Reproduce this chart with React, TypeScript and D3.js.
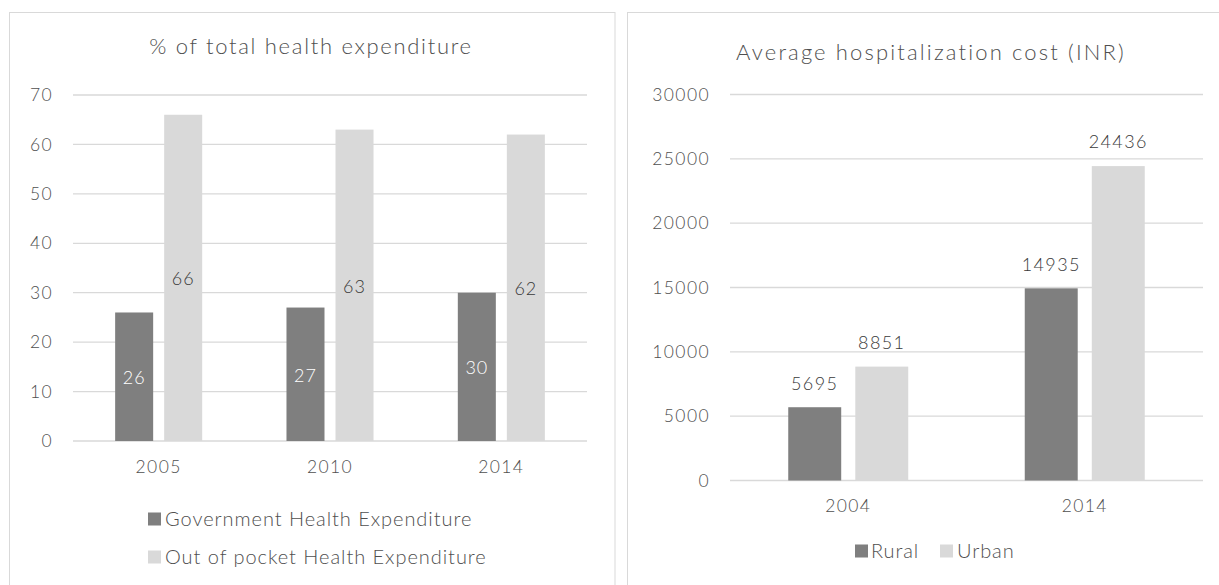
import React from "react";
import * as d3 from "d3";

const leftCategories = ["2005", "2010", "2014"];
const govValues = [26, 27, 30];
const oopValues = [66, 63, 62];
const leftTicks = [0, 10, 20, 30, 40, 50, 60, 70];

const rightCategories = ["2004", "2014"];
const ruralValues = [5695, 14935];
const urbanValues = [8851, 24436];
const rightTicks = [0, 5000, 10000, 15000, 20000, 25000, 30000];

const DARK = "#7f7f7f";
const LIGHT = "#d9d9d9";
const TEXT = "#4f4f4f";
const LABEL = "#3a3a3a";
const FONT = "Lato, 'Open Sans', sans-serif";
const W = 300;

function LeftChart() {
  const x0 = d3.scaleBand().domain(leftCategories).range([73, 587]).paddingInner(0.492).paddingOuter(0.246);
  const x1 = d3.scaleBand().domain(["gov", "oop"]).range([0, x0.bandwidth()]).paddingInner(0.2245);
  const y = d3.scaleLinear().domain([0, 70]).range([441, 95]);
  return (
    <g fontFamily={FONT} fontWeight={W}>
      <rect x={9.5} y={12.5} width={605.5} height={600} fill="#fff" stroke="#d9d9d9" />
      <text x={311} y={54} textAnchor="middle" fontSize={22} fill={TEXT} letterSpacing={1.7}>% of total health expenditure</text>
      {leftTicks.map((t) => (
        <g key={t}>
          <line x1={73} x2={587} y1={y(t)} y2={y(t)} stroke={LIGHT} strokeWidth={1.3} />
          <text x={53} y={y(t)} dy="0.35em" textAnchor="end" fontSize={17.5} fill={TEXT} letterSpacing={1.4}>{t}</text>
        </g>
      ))}
      {leftCategories.map((c, i) => {
        const gx = x0(c)!;
        const gxg = gx + x1("gov")!;
        const gxo = gx + x1("oop")!;
        const w = x1.bandwidth();
        return (
          <g key={c}>
            <rect x={gxg} y={y(govValues[i])} width={w} height={y(0) - y(govValues[i])} fill={DARK} />
            <rect x={gxo} y={y(oopValues[i])} width={w} height={y(0) - y(oopValues[i])} fill={LIGHT} />
            <text x={gxg + w / 2} y={(y(govValues[i]) + y(0)) / 2 + 1} dy="0.35em" textAnchor="middle" fontSize={18} fill="#fff" letterSpacing={1}>{govValues[i]}</text>
            <text x={gxo + w / 2} y={(y(oopValues[i]) + y(0)) / 2 + 1} dy="0.35em" textAnchor="middle" fontSize={18} fill={LABEL} letterSpacing={1}>{oopValues[i]}</text>
            <text x={gx + x0.bandwidth() / 2} y={467} dy="0.35em" textAnchor="middle" fontSize={17.5} fill={TEXT} letterSpacing={1.4}>{c}</text>
          </g>
        );
      })}
      <rect x={148} y={512.5} width={13} height={13} fill={DARK} />
      <text x={165} y={519} dy="0.35em" fontSize={20} fill={TEXT} letterSpacing={0.95}>Government Health Expenditure</text>
      <rect x={148} y={550.5} width={13} height={13} fill={LIGHT} />
      <text x={165} y={557} dy="0.35em" fontSize={20} fill={TEXT} letterSpacing={0.95}>Out of pocket Health Expenditure</text>
    </g>
  );
}

function RightChart() {
  const x0 = d3.scaleBand().domain(rightCategories).range([730, 1203]).paddingInner(0.4926).paddingOuter(0.2463);
  const x1 = d3.scaleBand().domain(["rural", "urban"]).range([0, x0.bandwidth()]).paddingInner(0.21);
  const y = d3.scaleLinear().domain([0, 30000]).range([480.5, 94.5]);
  return (
    <g fontFamily={FONT} fontWeight={W}>
      <rect x={627.5} y={12.5} width={600} height={600} fill="#fff" stroke="#d9d9d9" />
      <text x={931} y={60} textAnchor="middle" fontSize={22} fill={TEXT} letterSpacing={2.15}>Average hospitalization cost (INR)</text>
      {rightTicks.map((t) => (
        <g key={t}>
          <line x1={730} x2={1203} y1={y(t)} y2={y(t)} stroke={LIGHT} strokeWidth={1.3} />
          <text x={710} y={y(t)} dy="0.35em" textAnchor="end" fontSize={17.5} fill={TEXT} letterSpacing={1.4}>{t}</text>
        </g>
      ))}
      {rightCategories.map((c, i) => {
        const gx = x0(c)!;
        const gxr = gx + x1("rural")!;
        const gxu = gx + x1("urban")!;
        const w = x1.bandwidth();
        return (
          <g key={c}>
            <rect x={gxr} y={y(ruralValues[i])} width={w} height={y(0) - y(ruralValues[i])} fill={DARK} />
            <rect x={gxu} y={y(urbanValues[i])} width={w} height={y(0) - y(urbanValues[i])} fill={LIGHT} />
            <text x={gxr + w / 2} y={y(ruralValues[i]) - 24} dy="0.35em" textAnchor="middle" fontSize={18} fill={LABEL} letterSpacing={1.4}>{ruralValues[i]}</text>
            <text x={gxu + w / 2} y={y(urbanValues[i]) - 24} dy="0.35em" textAnchor="middle" fontSize={18} fill={LABEL} letterSpacing={1.4}>{urbanValues[i]}</text>
            <text x={gx + x0.bandwidth() / 2} y={506} dy="0.35em" textAnchor="middle" fontSize={17.5} fill={TEXT} letterSpacing={1.4}>{c}</text>
          </g>
        );
      })}
      <rect x={855} y={544.5} width={13} height={13} fill={DARK} />
      <text x={871} y={551} dy="0.35em" fontSize={20} fill={TEXT} letterSpacing={0.9}>Rural</text>
      <rect x={940} y={544.5} width={13} height={13} fill={LIGHT} />
      <text x={957} y={551} dy="0.35em" fontSize={20} fill={TEXT} letterSpacing={0.9}>Urban</text>
    </g>
  );
}

export default function App() {
  return (
    <svg width={1219} height={585} style={{ position: "absolute", left: 0, top: 0, display: "block" }}>
      <rect x={0} y={0} width={1219} height={585} fill="#fff" />
      <LeftChart />
      <RightChart />
    </svg>
  );
}
